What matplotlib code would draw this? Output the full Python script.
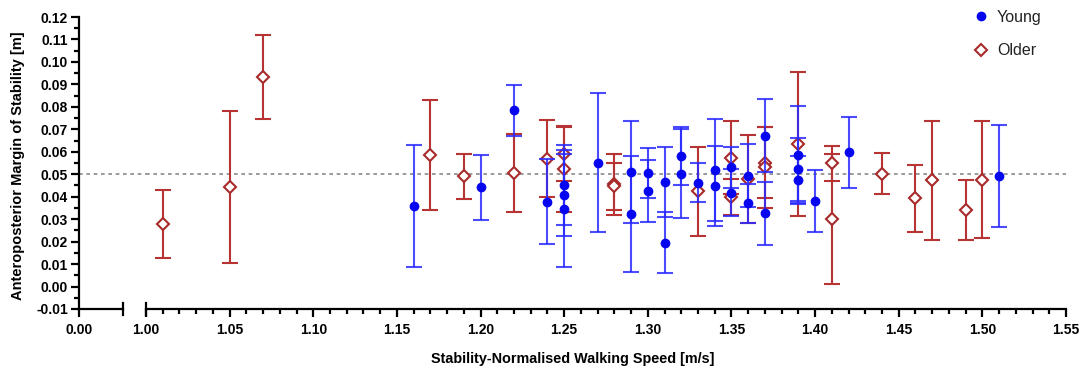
import numpy as np
import matplotlib.pyplot as plt
from matplotlib.lines import Line2D
from matplotlib.ticker import MultipleLocator, FormatStrFormatter

plt.rcParams['font.family'] = ['Liberation Sans', 'DejaVu Sans']

# young participants: speed [m/s], AP margin of stability [m], error
young_x = [1.16, 1.20, 1.22, 1.24, 1.25, 1.25, 1.25, 1.27, 1.29, 1.29, 1.30, 1.30,
           1.31, 1.31, 1.32, 1.32, 1.33, 1.34, 1.34, 1.35, 1.35, 1.36, 1.36, 1.37,
           1.37, 1.39, 1.39, 1.39, 1.40, 1.42, 1.51]
young_y = [0.0359, 0.0441, 0.0784, 0.0377, 0.0451, 0.0406, 0.0347, 0.0552, 0.0510, 0.0323,
           0.0504, 0.0426, 0.0467, 0.0196, 0.0582, 0.0503, 0.0463, 0.0519, 0.0448, 0.0530,
           0.0418, 0.0493, 0.0371, 0.0671, 0.0326, 0.0586, 0.0522, 0.0475, 0.0381, 0.0597,
           0.0493]
young_err = [0.0272, 0.0144, 0.0115, 0.0189, 0.0178, 0.0183, 0.0262, 0.0309, 0.0226, 0.0258,
             0.0111, 0.0138, 0.0156, 0.0134, 0.0129, 0.0200, 0.0085, 0.0226, 0.0178, 0.0092,
             0.0104, 0.0141, 0.0086, 0.0163, 0.0141, 0.0218, 0.0140, 0.0105, 0.0138, 0.0160,
             0.0228]

# older participants
older_x = [1.01, 1.05, 1.07, 1.17, 1.19, 1.22, 1.24, 1.25, 1.25, 1.28, 1.28, 1.33, 1.35,
           1.35, 1.36, 1.37, 1.37, 1.39, 1.41, 1.41, 1.44, 1.46, 1.47, 1.49, 1.50]
older_y = [0.0278, 0.0442, 0.0933, 0.0586, 0.0490, 0.0507, 0.0570, 0.0592, 0.0522, 0.0455,
           0.0447, 0.0424, 0.0574, 0.0399, 0.0480, 0.0552, 0.0530, 0.0634, 0.0549, 0.0300,
           0.0503, 0.0393, 0.0473, 0.0341, 0.0476]
older_err = [0.0152, 0.0339, 0.0189, 0.0244, 0.0100, 0.0173, 0.0172, 0.0122, 0.0188, 0.0137,
             0.0105, 0.0199, 0.0161, 0.0080, 0.0195, 0.0160, 0.0180, 0.0321, 0.0078, 0.0290,
             0.0092, 0.0150, 0.0265, 0.0133, 0.0262]

ref_line = 0.05

blue = '#0505F0'
blue_bar = (0.17, 0.17, 1.0, 0.85)
red = '#A82A2A'
red_bar = '#B83434'

W, H = 1081, 369
fig = plt.figure(figsize=(W / 100, H / 100), dpi=100)
bottom, height = 60 / H, 292 / H
axL = fig.add_axes([79 / W, bottom, 44 / W, height])
axR = fig.add_axes([146 / W, bottom, 920 / W, height])

for ax in (axL, axR):
    ax.set_ylim(-0.01, 0.12)
    ax.spines['top'].set_visible(False)
    ax.spines['right'].set_visible(False)
    ax.spines['bottom'].set_linewidth(1.6)
    ax.spines['left'].set_linewidth(1.6)
    ax.tick_params(which='major', length=6, width=1.6, labelsize=10)
    ax.tick_params(which='minor', length=3.5, width=1.6)
    ax.set_facecolor('none')

# left stub of the broken axis
axL.set_xlim(0, 44 / 1673)
axL.set_xticks([0.0])
axL.xaxis.set_major_formatter(FormatStrFormatter('%.2f'))
axL.yaxis.set_major_locator(MultipleLocator(0.01))
axL.yaxis.set_minor_locator(MultipleLocator(0.005))
axL.yaxis.set_major_formatter(FormatStrFormatter('%.2f'))
axL.tick_params(axis='y', pad=2)
axL.tick_params(axis='x', pad=4)
for lab in axL.get_xticklabels() + axL.get_yticklabels():
    lab.set_fontweight('bold')
axL.axhline(ref_line, xmin=0, xmax=67 / 44, color='#8a8a8a', lw=1.2,
            ls=(0, (2.2, 2.2)), clip_on=False, zorder=1)
axL.plot([1, 1], [-0.022, 0.022], transform=axL.transAxes, color='black',
         lw=1.6, clip_on=False)

# main part
axR.set_xlim(1.0, 1.55)
axR.spines['left'].set_visible(False)
axR.tick_params(axis='y', left=False, labelleft=False)
axR.xaxis.set_major_locator(MultipleLocator(0.05))
axR.xaxis.set_minor_locator(MultipleLocator(0.01))
axR.xaxis.set_major_formatter(FormatStrFormatter('%.2f'))
axR.tick_params(axis='x', pad=4)
for lab in axR.get_xticklabels():
    lab.set_fontweight('bold')
axR.axhline(ref_line, color='#8a8a8a', lw=1.2, ls=(0, (2.2, 2.2)), zorder=1)
axR.plot([0, 0], [-0.022, 0.022], transform=axR.transAxes, color='black',
         lw=1.6, clip_on=False)

axR.errorbar(older_x, older_y, yerr=older_err, fmt='D', ms=6, mfc='white', mec=red,
             mew=1.5, ecolor=red_bar, elinewidth=1.5, capsize=6, capthick=1.5,
             zorder=3)
axR.errorbar(young_x, young_y, yerr=young_err, fmt='o', ms=6, mfc=blue, mec=blue,
             ecolor=blue_bar, elinewidth=1.5, capsize=6, capthick=1.5, zorder=4)

handles = [Line2D([], [], ls='none', marker='o', ms=6, mfc=blue, mec=blue),
           Line2D([], [], ls='none', marker='D', ms=6, mfc='white', mec=red, mew=1.5)]
leg = fig.legend(handles, ['Young', 'Older'], loc='upper left',
                 bbox_to_anchor=(973 / W, 1 - 10 / H), frameon=False, fontsize=11.5,
                 handlelength=1.0, handletextpad=0.5, labelspacing=1.15,
                 borderpad=0, borderaxespad=0)
for t in leg.get_texts():
    t.set_color('#222222')

fig.text(18 / W, 1 - 166 / H, 'Anteroposterior Margin of Stability [m]', rotation=90,
         ha='center', va='center', fontsize=10.5, fontweight='bold')
fig.text(573 / W, 1 - 359 / H, 'Stability-Normalised Walking Speed [m/s]',
         ha='center', va='center', fontsize=10.4, fontweight='bold')

fig.savefig('out.png', dpi=100)
